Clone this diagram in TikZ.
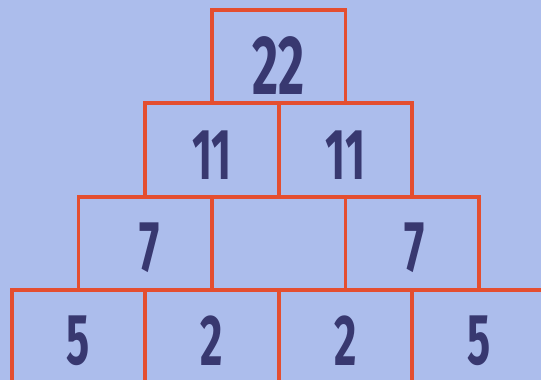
\documentclass[tikz,border=0pt]{standalone}
\usepackage{fontspec}
\newfontfamily\numfont[FakeStretch=0.6]{Fira Sans}
\definecolor{bgblue}{RGB}{172,189,236}
\definecolor{boxred}{RGB}{228,78,48}
\definecolor{numblue}{RGB}{56,56,112}
\begin{document}
\begin{tikzpicture}[x=1pt,y=-1pt,
  cell/.style={draw=boxred,line width=3.8pt,minimum width=133.5pt,minimum height=93.3pt,inner sep=0pt,outer sep=0pt},
  num/.style={text=numblue,inner sep=0pt,font=\numfont\bfseries\fontsize{72}{72}\selectfont},
  bignum/.style={text=numblue,inner sep=0pt,font=\numfont\bfseries\fontsize{84}{84}\selectfont}]
\fill[bgblue] (0,0) rectangle (541,380);
\useasboundingbox (0,0) rectangle (541,380);
% row 4
\node[cell] (d1) at (78.5,336.6) {};
\node[cell] (d2) at (212,336.6) {};
\node[cell] (d3) at (345.5,336.6) {};
\node[cell] (d4) at (479,336.6) {};
% row 3
\node[cell] (c1) at (145.25,243.3) {};
\node[cell] (c2) at (278.75,243.3) {};
\node[cell] (c3) at (412.25,243.3) {};
% row 2
\node[cell] (b1) at (212,150) {};
\node[cell] (b2) at (345.5,150) {};
% row 1
\node[cell] (a1) at (278.75,56.7) {};
% numbers
\node[bignum] (n22) at ([yshift=-9pt]a1.center) {22};
\node[num] (n11a) at ([yshift=-5pt]b1.center) {11};
\node[num] (n11b) at ([yshift=-5pt]b2.center) {11};
\node[num] (n7a) at ([xshift=4pt,yshift=-4pt]c1.center) {7};
\node[num] (n7b) at ([xshift=2pt,yshift=-4pt]c3.center) {7};
\node[num] (n5a) at ([yshift=-4.5pt]d1.center) {5};
\node[num] (n2a) at ([yshift=-4.5pt]d2.center) {2};
\node[num] (n2b) at ([yshift=-4.5pt]d3.center) {2};
\node[num] (n5b) at ([yshift=-4.5pt]d4.center) {5};
\end{tikzpicture}
\end{document}
